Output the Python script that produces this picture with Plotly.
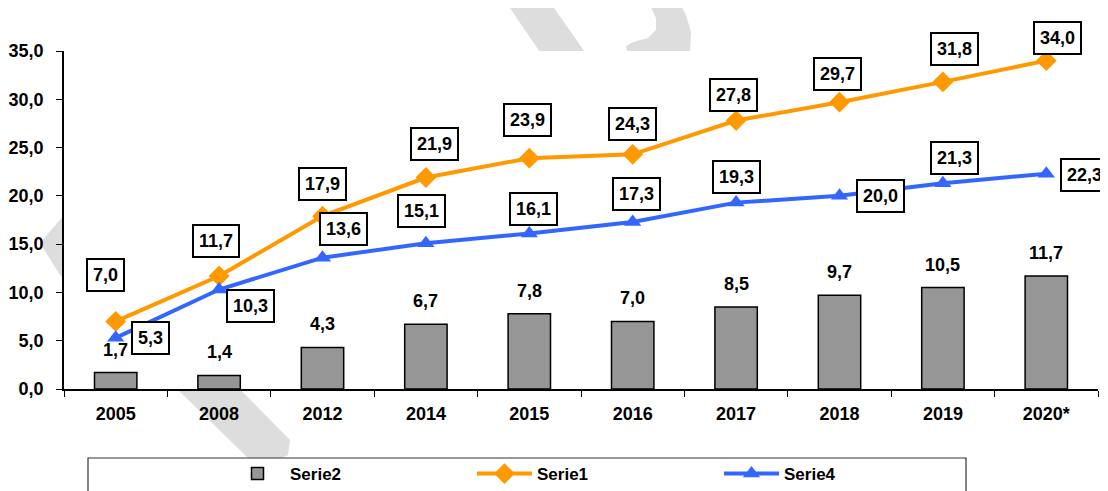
import plotly.graph_objects as go

categories = ["2005", "2008", "2012", "2014", "2015", "2016", "2017", "2018", "2019", "2020*"]
serie2 = [1.7, 1.4, 4.3, 6.7, 7.8, 7.0, 8.5, 9.7, 10.5, 11.7]
serie1 = [7.0, 11.7, 17.9, 21.9, 23.9, 24.3, 27.8, 29.7, 31.8, 34.0]
serie4 = [5.3, 10.3, 13.6, 15.1, 16.1, 17.3, 19.3, 20.0, 21.3, 22.3]

# label offsets in pixels (dx right, dy down) relative to the point
s1_off = [(-10, -46), (-3, -35), (0, -32), (9, -34), (-2, -38), (0, -30), (-3, -26), (-2, -28), (12, -33), (11, -23)]
s4_off = [(35, 0), (31, 16), (21, -29), (-4, -32), (4, -25), (4, -28), (0, -26), (41, 0), (12, -25), (38, 1)]

FONT = "Liberation Sans, Arial, sans-serif"
FS = 18
ORANGE = "#FF9900"
BLUE = "#3366FF"

# the page body adds an 8px offset; work in screen pixels and convert
OFF = 8
W, H = 1108 - OFF, 491 - OFF
# plot area in screen pixels
SL, SR, ST, SB = 64, 1098, 51, 389
L, R, T, B = SL - OFF, SR - OFF, ST - OFF, SB - OFF


def px(x, y):
    return (x - SL) / (SR - SL), (SB - y) / (SB - ST)


def path(points):
    s = ""
    for i, (x, y) in enumerate(points):
        u, v = px(x, y)
        s += ("M" if i == 0 else "L") + f"{u:.4f},{v:.4f}"
    return s + "Z"


fig = go.Figure()
fig.add_trace(go.Bar(
    x=categories, y=serie2, name="Serie2", width=0.41,
    marker=dict(color="#969696", line=dict(color="black", width=1.5)),
))
fig.add_trace(go.Scatter(
    x=categories, y=serie1, name="Serie1", mode="lines+markers",
    line=dict(color=ORANGE, width=4),
    marker=dict(symbol="diamond", size=16, color=ORANGE),
))
fig.add_trace(go.Scatter(
    x=categories, y=serie4, name="Serie4", mode="lines+markers",
    line=dict(color=BLUE, width=4),
    marker=dict(symbol="triangle-up", size=15, color=BLUE),
))


def fmt(v):
    return f"{v:.1f}".replace(".", ",")


lab_font = dict(size=FS, color="black", family=FONT, weight="bold")
annotations = []
for i, v in enumerate(serie2):
    annotations.append(dict(x=i, y=v, xref="x", yref="y", text=fmt(v), showarrow=False, yshift=23,
                            font=lab_font))
for vals, offs in ((serie1, s1_off), (serie4, s4_off)):
    for i, (v, (dx, dy)) in enumerate(zip(vals, offs)):
        annotations.append(dict(
            x=i, y=v, xref="x", yref="y", text=fmt(v), showarrow=False, xshift=dx, yshift=-dy,
            bgcolor="white", bordercolor="black", borderwidth=2, borderpad=5,
            font=lab_font))

WM = "#DDDDDD"
shapes = [
    # watermark pieces (visible only outside the plot area)
    dict(type="path", xref="paper", yref="paper", layer="below", line=dict(width=0), fillcolor=WM,
         path=path([(40, 243), (66, 213), (290, 440), (288, 455), (278, 460), (250, 460), (60, 275)])),
    dict(type="path", xref="paper", yref="paper", layer="below", line=dict(width=0), fillcolor=WM,
         path=path([(503, -2), (547, -2), (585, 52), (540, 52)])),
    dict(type="path", xref="paper", yref="paper", layer="below", line=dict(width=0), fillcolor=WM,
         path=path([(647, -2), (677, -2), (686, 15), (691, 32), (690, 52), (627, 52), (626, 46),
                    (633, 42), (648, 38), (656, 30), (656, 18)])),
    # white plot area
    dict(type="rect", xref="paper", yref="paper", layer="below", x0=0, x1=1, y0=0, y1=1,
         line=dict(width=0), fillcolor="white"),
    # legend frame
    dict(type="rect", xref="paper", yref="paper", layer="below",
         x0=px(88, 0)[0], x1=px(966, 0)[0], y0=px(0, 500)[1], y1=px(0, 458)[1],
         line=dict(color="#333333", width=1.2), fillcolor="white"),
]

fig.update_layout(
    width=W, height=H,
    margin=dict(l=L, r=W - R, t=T, b=H - B, autoexpand=False),
    paper_bgcolor="white", plot_bgcolor="rgba(0,0,0,0)",
    separators=",.",
    font=dict(family=FONT, size=FS, color="black", weight="bold"),
    showlegend=True,
    legend=dict(orientation="h", xref="container", yref="container",
                x=(225 - OFF) / W, xanchor="left", y=1 - (474 - OFF) / H, yanchor="middle",
                entrywidth=177, entrywidthmode="pixels", itemwidth=55,
                font=dict(size=17, family=FONT, weight="bold", color="black"),
                bgcolor="rgba(0,0,0,0)", borderwidth=0, traceorder="normal"),
    annotations=annotations,
    shapes=shapes,
)
fig.update_xaxes(type="category", range=[-0.5, len(categories) - 0.5],
                 showline=True, linecolor="black", linewidth=1.5,
                 ticks="outside", tickson="boundaries", ticklen=6, tickcolor="black", tickwidth=1.2,
                 ticklabelstandoff=8,
                 showgrid=False, tickangle=0, tickfont=dict(size=FS, family=FONT, weight="bold"))
fig.update_yaxes(range=[0, 35], dtick=5, tickformat=".1f", showline=True, linecolor="black", linewidth=1.5,
                 ticks="outside", ticklen=6, tickcolor="black", tickwidth=1.2, showgrid=False, zeroline=False,
                 ticklabelstandoff=9,
                 tickfont=dict(size=FS, family=FONT, weight="bold"))

fig.write_html("out.html")
